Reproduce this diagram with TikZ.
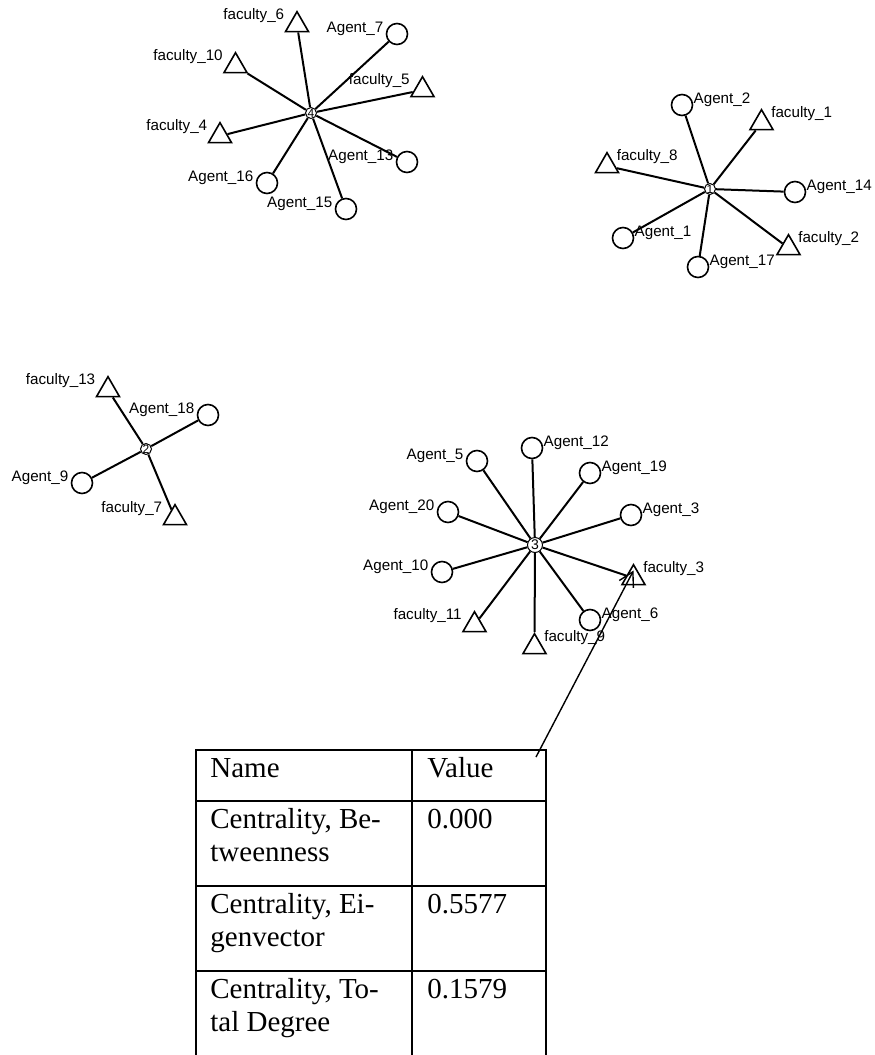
\documentclass[tikz,border=0pt]{standalone}
\usepackage{fontspec}
\usepackage{tikz}
\usetikzlibrary{shapes.geometric, arrows.meta, calc}
\newfontfamily\lblfont{Liberation Sans}
\newfontfamily\tblfont{Liberation Serif}

\begin{document}
\begin{tikzpicture}[x=0.5pt, y=-0.5pt]
    % Define styles
    \tikzstyle{agent} = [circle, draw=black, line width=0.8pt, fill=white, minimum size=10.5pt, inner sep=0pt]
    \tikzstyle{faculty} = [regular polygon, regular polygon sides=3, draw=black, line width=0.8pt, fill=white, minimum size=13.3pt, inner sep=0pt]
    \tikzstyle{hub} = [circle, draw=black, line width=0.5pt, fill=white, minimum size=5.5pt, inner sep=0pt, font=\lblfont\fontsize{6}{6}\selectfont]
    \tikzstyle{lbl} = [inner sep=1pt, font=\lblfont\fontsize{7.6}{9}\selectfont]
    \tikzstyle{al} = [lbl, yshift=2.5pt]
    \tikzstyle{ar} = [lbl, yshift=2.5pt, xshift=-1pt]
    \tikzstyle{fl} = [lbl, yshift=4.6pt, xshift=-0.9pt]
    \tikzstyle{fr} = [lbl, yshift=4.6pt, xshift=-0.6pt]
    \tikzstyle{edge} = [line width=1pt]
    \tikzstyle{grid} = [line width=1pt]
    \tikzstyle{cell} = [inner sep=0pt, anchor=base west, align=left, font=\tblfont\fontsize{14.5}{16.7}\selectfont]
    \tikzstyle{arrow} = [line width=0.7pt, -{Straight Barb[length=7pt, width=8pt]}]

    \useasboundingbox (0,0) rectangle (874,1055);

    % Cluster 4
    \node (h4) [hub] at (311,113) {4};
    \node (f6) [faculty, label={[fl]west:faculty\_6}] at (297,25) {};
    \node (a7) [agent, label={[al]west:Agent\_7}] at (397,34) {};
    \node (f10) [faculty, label={[fl]west:faculty\_10}] at (235.5,66) {};
    \node (f5) [faculty, label={[fl]west:faculty\_5}] at (422.5,90) {};
    \node (f4) [faculty, label={[fl]west:faculty\_4}] at (220,136) {};
    \node (a13) [agent, label={[al]west:Agent\_13}] at (407,162) {};
    \node (a16) [agent, label={[al]west:Agent\_16}] at (267,183) {};
    \node (a15) [agent, label={[al]west:Agent\_15}] at (346,209) {};

    % Cluster 1
    \node (h1) [hub] at (710,189) {1};
    \node (a2) [agent, label={[ar]east:Agent\_2}] at (682,105) {};
    \node (f1) [faculty, label={[fr]east:faculty\_1}] at (761.5,123) {};
    \node (f8) [faculty, label={[fr]east:faculty\_8}] at (607,166) {};
    \node (a14) [agent, label={[ar]east:Agent\_14}] at (795,192) {};
    \node (a1) [agent, label={[ar]east:Agent\_1}] at (623,238) {};
    \node (f2) [faculty, label={[fr]east:faculty\_2}] at (788.5,248) {};
    \node (a17) [agent, label={[ar]east:Agent\_17}] at (698,267) {};

    % Cluster 2
    \node (h2) [hub] at (146,449) {2};
    \node (f13) [faculty, label={[fl]west:faculty\_13}] at (108,390) {};
    \node (a18) [agent, label={[al]west:Agent\_18}] at (208,415) {};
    \node (a9) [agent, label={[al]west:Agent\_9}] at (82,483) {};
    \node (f7) [faculty, label={[fl]west:faculty\_7}] at (175,518) {};

    % Cluster 3
    \node (h3) [hub, minimum size=7.5pt, font=\lblfont\fontsize{7}{7}\selectfont] at (535,545) {3};
    \node (a5) [agent, label={[al]west:Agent\_5}] at (477,461) {};
    \node (a12) [agent, label={[ar]east:Agent\_12}] at (532,448) {};
    \node (a19) [agent, label={[ar]east:Agent\_19}] at (590,473) {};
    \node (a20) [agent, label={[al]west:Agent\_20}] at (448,512) {};
    \node (a3) [agent, label={[ar]east:Agent\_3}] at (631,515) {};
    \node (a10) [agent, label={[al]west:Agent\_10}] at (442,572) {};
    \node (f3) [faculty, label={[fr]east:faculty\_3}] at (633.5,578) {};
    \node (f11) [faculty, label={[fl]west:faculty\_11}] at (474.5,625) {};
    \node (f9) [faculty, label={[fr]east:faculty\_9}] at (534.5,647) {};
    \node (a6) [agent, label={[ar]east:Agent\_6}] at (590,620) {};

    % Edges
    \draw [edge] (h4) -- (f6);
    \draw [edge] (h4) -- (a7);
    \draw [edge] (h4) -- (f10);
    \draw [edge] (h4) -- (f5);
    \draw [edge] (h4) -- (f4);
    \draw [edge] (h4) -- (a13);
    \draw [edge] (h4) -- (a16);
    \draw [edge] (h4) -- (a15);
    \draw [edge] (h1) -- (a2);
    \draw [edge] (h1) -- (f1);
    \draw [edge] (h1) -- (f8);
    \draw [edge] (h1) -- (a14);
    \draw [edge] (h1) -- (a1);
    \draw [edge] (h1) -- (f2);
    \draw [edge] (h1) -- (a17);
    \draw [edge] (h2) -- (f13);
    \draw [edge] (h2) -- (a18);
    \draw [edge] (h2) -- (a9);
    \draw [edge] (h2) -- (f7);
    \draw [edge] (h3) -- (a5);
    \draw [edge] (h3) -- (a12);
    \draw [edge] (h3) -- (a19);
    \draw [edge] (h3) -- (a20);
    \draw [edge] (h3) -- (a3);
    \draw [edge] (h3) -- (a10);
    \draw [edge] (h3) -- (f3);
    \draw [edge] (h3) -- (f11);
    \draw [edge] (h3) -- (f9);
    \draw [edge] (h3) -- (a6);

    % Table
    \draw [grid] (196,1055) -- (196,750) -- (546,750) -- (546,1055);
    \draw [grid] (412,750) -- (412,1055);
    \draw [grid] (196,801) -- (546,801);
    \draw [grid] (196,886) -- (546,886);
    \draw [grid] (196,971) -- (546,971);
    \node (name) [cell] at (210,777) {Name};
    \node (value) [cell] at (427,777) {Value};
    \node (btw) [cell] at (210,861.5) {Centrality, Be-\\tweenness};
    \node (btwv) [cell] at (427,828) {0.000};
    \node (eig) [cell] at (210,946.5) {Centrality, Ei-\\genvector};
    \node (eigv) [cell] at (427,913) {0.5577};
    \node (deg) [cell] at (210,1031.5) {Centrality, To-\\tal Degree};
    \node (degv) [cell] at (427,998) {0.1579};

    % Callout
    \coordinate (callout) at (536,757);
    \draw [arrow] (callout) -- ($(f3.corner 1)!0.5!(f3.center)$);
\end{tikzpicture}
\end{document}
